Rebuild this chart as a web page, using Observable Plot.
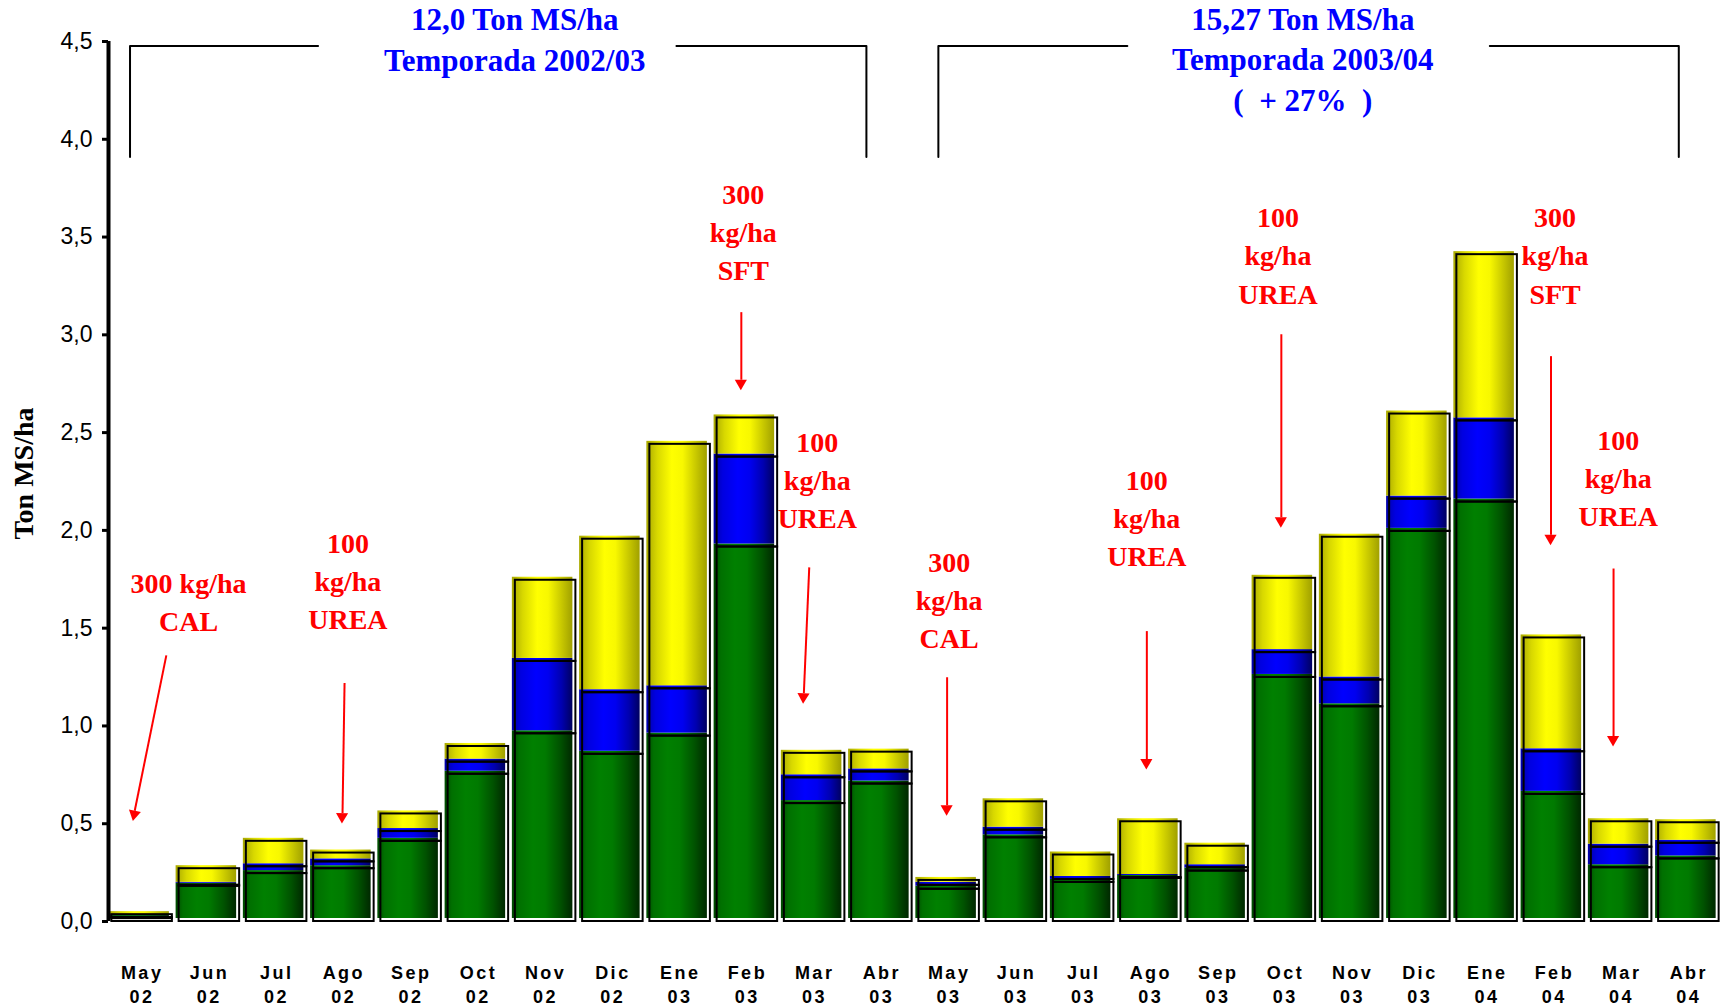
<!DOCTYPE html>
<html><head><meta charset="utf-8">
<script src="https://cdn.jsdelivr.net/npm/d3@7"></script>
<script src="https://cdn.jsdelivr.net/npm/@observablehq/plot@0.6"></script>
<style>
body{margin:0;background:#fff;}
g[aria-label="x-axis tick label"] text{letter-spacing:2.5px;}
</style></head><body><div id="chart"></div>
<script>
// Categories
const months = ["May","Jun","Jul","Ago","Sep","Oct","Nov","Dic","Ene","Feb","Mar","Abr",
                "May","Jun","Jul","Ago","Sep","Oct","Nov","Dic","Ene","Feb","Mar","Abr"];
const years  = ["02","02","02","02","02","02","02","02","03","03","03","03",
                "03","03","03","03","03","03","03","03","04","04","04","04"];
// Series values (Ton MS/ha), stacked bottom -> top
const verde    = [0.015,0.18,0.245,0.27,0.41,0.753,0.96,0.855,0.948,1.915,0.603,0.703,
                  0.165,0.428,0.20,0.22,0.258,1.248,1.098,1.995,2.145,0.65,0.275,0.32];
const azul     = [0.005,0.005,0.035,0.035,0.05,0.062,0.37,0.315,0.242,0.46,0.132,0.062,
                  0.02,0.039,0.015,0.005,0.017,0.127,0.137,0.165,0.415,0.218,0.105,0.08];
const amarillo = [0.015,0.085,0.13,0.045,0.09,0.08,0.415,0.785,1.25,0.2,0.125,0.101,
                  0.025,0.145,0.125,0.285,0.11,0.38,0.73,0.435,0.85,0.582,0.13,0.105];
const yTicks = [0,0.5,1,1.5,2,2.5,3,3.5,4,4.5];

// Annotations (x in category index units, y in Ton MS/ha)
const notas = [
  {x:0.69, y:1.645, t:"300 kg/ha\nCAL"},
  {x:3.06, y:1.752, t:"100\nkg/ha\nUREA"},
  {x:8.94, y:3.535, t:"300\nkg/ha\nSFT"},
  {x:10.04,y:2.27,  t:"100\nkg/ha\nUREA"},
  {x:12.0, y:1.657, t:"300\nkg/ha\nCAL"},
  {x:14.94,y:2.073, t:"100\nkg/ha\nUREA"},
  {x:16.89,y:3.417, t:"100\nkg/ha\nUREA"},
  {x:21.01,y:3.417, t:"300\nkg/ha\nSFT"},
  {x:21.95,y:2.281, t:"100\nkg/ha\nUREA"}
];
const flechas = [
  {x1:0.36, y1:1.361,x2:-0.11,y2:0.546},
  {x1:3.01, y1:1.22, x2:2.98, y2:0.534},
  {x1:8.91, y1:3.116,x2:8.91, y2:2.75},
  {x1:9.92, y1:1.811,x2:9.84, y2:1.147},
  {x1:11.97,y1:1.249,x2:11.97,y2:0.574},
  {x1:14.94,y1:1.485,x2:14.94,y2:0.81},
  {x1:16.94,y1:3.003,x2:16.94,y2:2.047},
  {x1:20.95,y1:2.891,x2:20.95,y2:1.957},
  {x1:21.88,y1:1.805,x2:21.88,y2:0.928}
];
const titulos = [
  {x:5.54,  y:4.52, t:"12,0 Ton MS/ha\nTemporada 2002/03"},
  {x:17.26, y:4.418, t:"15,27 Ton MS/ha\nTemporada 2003/04\n(  + 27%  )"}
];
const corchetes = [
  {g:1,x:-0.18,y:3.909},{g:1,x:-0.18,y:4.477},{g:1,x:2.616,y:4.477},
  {g:2,x:7.945,y:4.477},{g:2,x:10.77,y:4.477},{g:2,x:10.77,y:3.909},
  {g:3,x:11.84,y:3.909},{g:3,x:11.84,y:4.477},{g:3,x:14.65,y:4.477},
  {g:4,x:20.04,y:4.477},{g:4,x:22.85,y:4.477},{g:4,x:22.85,y:3.909}
];

const series = [
  {key:"verde", values:verde, grad:"gVerde"},
  {key:"azul", values:azul, grad:"gAzul"},
  {key:"amarillo", values:amarillo, grad:"gAmarillo"}
];
const rows = [];
months.forEach((m,i)=>{
  let base = 0;
  for (const s of series) {
    const v = s.values[i];
    rows.push({i, serie:s.key, y1:base, y2:base+v});
    base += v;
  }
});
const half = 0.45;

const defs = () => {
  const g = d3.create("svg:g");
  const d = g.append("defs");
  const mk = (id, stops) => {
    const lg = d.append("linearGradient").attr("id", id).attr("x1","0").attr("x2","1").attr("y1","0").attr("y2","0");
    stops.forEach(([o,c]) => lg.append("stop").attr("offset", o).attr("stop-color", c));
  };
  mk("gVerde", [["0%","#004a00"],["12%","#007000"],["35%","#008000"],["55%","#007a00"],["80%","#005200"],["100%","#002800"]]);
  mk("gAzul", [["0%","#0000a8"],["15%","#0000e0"],["40%","#0000ff"],["60%","#0000f0"],["82%","#0000b0"],["100%","#000060"]]);
  mk("gAmarillo", [["0%","#a8a800"],["18%","#d8d800"],["42%","#ffff00"],["60%","#f8f800"],["82%","#c8c800"],["100%","#a0a000"]]);
  return g.node();
};

const serif = "Liberation Serif, Times New Roman, serif";
const sans = "Liberation Sans, Arial, sans-serif";
const pxX = (1725 - 108 - 3) / 24, pxY = (1008 - 41 - 87) / 4.5;
const ang = d => Math.atan2((d.x1 - d.x2) * pxX, (d.y1 - d.y2) * pxY);

const chart = Plot.plot({
  width: 1725, height: 1008,
  marginLeft: 108, marginRight: 3, marginTop: 41, marginBottom: 87,
  style: {background:"#fff", overflow:"visible"},
  x: {domain:[-0.5, 23.5], axis: null},
  y: {domain:[0, 4.5], axis: null},
  marks: [
    defs,
    ...series.map(s => Plot.rectY(rows.filter(r => r.serie === s.key), {
      x1: d => d.i - half, x2: d => d.i + half, y1: "y1", y2: "y2",
      fill: `url(#${s.grad})`, dx: -3, dy: -3
    })),
    Plot.rectY(rows, {
      x1: d => d.i - half, x2: d => d.i + half, y1: "y1", y2: "y2",
      fill: "none", stroke: "black", strokeWidth: 2
    }),
    Plot.axisY({ticks: yTicks, tickFormat: d => d.toFixed(1).replace(".", ","),
      tickSize: 6, tickPadding: 10, strokeWidth: 3, fontSize: 23, fontFamily: sans, fill: "black", label: null}),
    Plot.ruleX([-0.5], {y1: 0, y2: 4.5, strokeWidth: 4, stroke: "black"}),
    Plot.axisX({ticks: d3.range(months.length), tickFormat: i => months[i] + "\n" + years[i],
      tickSize: 0, tickPadding: 40, fontSize: 18, fontWeight: "bold", fontFamily: sans, lineHeight: 1.35, label: null}),
    Plot.text(["Ton MS/ha"], {frameAnchor: "left", textAnchor: "middle", dx: -84, dy: -8, rotate: -90,
      fontSize: 28, fontWeight: "bold", fontFamily: serif, fill: "black"}),
    Plot.line(corchetes, {x: "x", y: "y", z: "g", stroke: "black", strokeWidth: 2}),
    Plot.text(titulos, {x: "x", y: "y", text: "t", fill: "#0000ff", fontSize: 31,
      fontWeight: "bold", fontFamily: serif, lineHeight: 1.3}),
    Plot.text(notas, {x: "x", y: "y", text: "t", fill: "#ff0000", fontSize: 28,
      fontWeight: "bold", fontFamily: serif, lineHeight: 1.36}),
    Plot.link(flechas, {x1: "x1", y1: "y1", x2: "x2", y2: (d) => d.y2 + 4 / pxY, stroke: "#ff0000", strokeWidth: 2}),
    Plot.dot(flechas, {x: "x2", y: "y2", symbol: "triangle", r: 4.5, fill: "#ff0000", stroke: "none",
      rotate: d => 180 + ang(d) * 180 / Math.PI,
      dy: d => -8 * Math.cos(ang(d)), dx: d => 8 * Math.sin(ang(d))})
  ]
});
document.getElementById("chart").appendChild(chart);
</script></body></html>
